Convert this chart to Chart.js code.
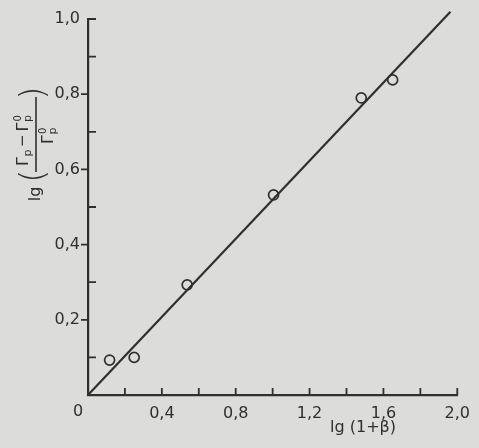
<!DOCTYPE html>
<html>
<head>
<meta charset="utf-8">
<script src="https://cdn.jsdelivr.net/npm/chart.js@4"></script>
<style>
  html, body { margin: 0; padding: 0; background: #dcdcda; }
  canvas { display: block; }
</style>
</head>
<body>
<canvas id="chart" width="479" height="448"></canvas>
<script>
'use strict';

// measured points, lg(1+beta) vs lg((Gp - Gp0)/Gp0)
var pointX = [0.117, 0.25, 0.537, 1.005, 1.48, 1.65];
var pointY = [0.093, 0.10, 0.293, 0.532, 0.79, 0.838];

// straight line through the origin
var fitX = [0, 1.963];
var fitY = [0, 1.019];

var xTickLabels = ['0,4', '0,8', '1,2', '1,6', '2,0'];
var yTickLabels = ['0,2', '0,4', '0,6', '0,8', '1,0'];

var ink = '#2f2f2f';
var font = "'DejaVu Sans', sans-serif";

function toXY(xs, ys) {
  return xs.map(function(x, i) {
    return { x: x, y: ys[i] };
  });
}

function fmt(v) {
  return v.toFixed(1).replace('.', ',');
}

// small ticks: x ticks point up, y major ticks point left, y minor ticks point right
var tickMarks = {
  id: 'tickMarks',
  afterDraw: function(chart) {
    var ctx = chart.ctx;
    var xs = chart.scales.x;
    var ys = chart.scales.y;
    var x0 = xs.getPixelForValue(0);
    var y0 = ys.getPixelForValue(0);
    ctx.save();
    ctx.strokeStyle = ink;
    ctx.lineWidth = 1.8;
    ctx.beginPath();
    for (var i = 1; i <= 10; i++) {
      var px = xs.getPixelForValue(i * 0.2);
      ctx.moveTo(px, y0);
      ctx.lineTo(px, y0 - 7);
    }
    for (var j = 1; j <= 10; j++) {
      var py = ys.getPixelForValue(j * 0.1);
      if (j % 2 == 0 && j != 10) {
        ctx.moveTo(x0, py);
        ctx.lineTo(x0 - 7, py);
      } else {
        ctx.moveTo(x0, py);
        ctx.lineTo(x0 + 8, py);
      }
    }
    ctx.stroke();
    ctx.restore();
  }
};

function gammaP(ctx, x, base, sup) {
  ctx.font = '16px ' + font;
  ctx.fillText('\u0393', x, base);
  var w = ctx.measureText('\u0393').width;
  ctx.font = '11px ' + font;
  ctx.fillText('p', x + w + 0.5, base + 3);
  if (sup) {
    ctx.font = '10px ' + font;
    ctx.fillText('0', x + w + 1, base - 7);
  }
  return w + 8;
}

var axisTitles = {
  id: 'axisTitles',
  afterDraw: function(chart) {
    var ctx = chart.ctx;
    ctx.save();
    ctx.fillStyle = ink;
    ctx.strokeStyle = ink;

    // x title
    ctx.font = '16px ' + font;
    ctx.textAlign = 'center';
    ctx.textBaseline = 'alphabetic';
    ctx.fillText('lg (1+\u03b2)', 363, 432);

    // origin label
    ctx.textBaseline = 'middle';
    ctx.fillText('0', 78, 412);

    // y title, rotated
    ctx.translate(36, 134);
    ctx.rotate(-Math.PI / 2);
    ctx.textBaseline = 'alphabetic';

    ctx.font = '16px ' + font;
    ctx.textAlign = 'center';
    ctx.fillText('lg', -60, 4);

    ctx.font = '200 34px ' + font;
    ctx.fillText('(', -42, 8);
    ctx.fillText(')', 41, 8);

    ctx.lineWidth = 1.6;
    ctx.beginPath();
    ctx.moveTo(-38, 0);
    ctx.lineTo(37, 0);
    ctx.stroke();

    ctx.textAlign = 'left';
    var x = -32;
    x += gammaP(ctx, x, -8, false);
    ctx.font = '15px ' + font;
    ctx.fillText('\u2212', x + 2, -9);
    x += ctx.measureText('\u2212').width + 5;
    gammaP(ctx, x, -8, true);

    gammaP(ctx, -10, 17, true);
    ctx.restore();
  }
};

var ctx = document.getElementById('chart').getContext('2d');
var chart = new Chart(ctx, {
  type: 'scatter',
  data: {
    datasets: [
      {
        data: toXY(fitX, fitY),
        showLine: true,
        borderColor: ink,
        borderWidth: 2.2,
        pointRadius: 0,
        clip: false
      },
      {
        data: toXY(pointX, pointY),
        pointStyle: 'circle',
        pointRadius: 5,
        pointBorderWidth: 1.7,
        pointBorderColor: ink,
        pointBackgroundColor: 'rgba(0,0,0,0)'
      }
    ]
  },
  options: {
    responsive: false,
    animation: false,
    layout: { padding: { top: 19, right: 15, left: 0, bottom: 0 } },
    plugins: {
      legend: { display: false },
      tooltip: { enabled: false }
    },
    scales: {
      x: {
        type: 'linear',
        min: 0,
        max: 2,
        afterFit: function(scale) { scale.height = 53; },
        grid: { display: false, drawTicks: false },
        border: { display: true, color: ink, width: 2.2 },
        ticks: {
          stepSize: 0.2,
          padding: 9,
          color: ink,
          font: { family: font, size: 16 },
          maxRotation: 0,
          autoSkip: false,
          callback: function(v) {
            var s = fmt(v);
            return xTickLabels.indexOf(s) >= 0 ? s : '';
          }
        }
      },
      y: {
        type: 'linear',
        min: 0,
        max: 1,
        afterFit: function(scale) { scale.width = 88; },
        grid: { display: false, drawTicks: false },
        border: { display: true, color: ink, width: 2.2 },
        ticks: {
          stepSize: 0.1,
          padding: 8,
          color: ink,
          font: { family: font, size: 16 },
          autoSkip: false,
          callback: function(v) {
            var s = fmt(v);
            return yTickLabels.indexOf(s) >= 0 ? s : '';
          }
        }
      }
    }
  },
  plugins: [tickMarks, axisTitles]
});
</script>
</body>
</html>
